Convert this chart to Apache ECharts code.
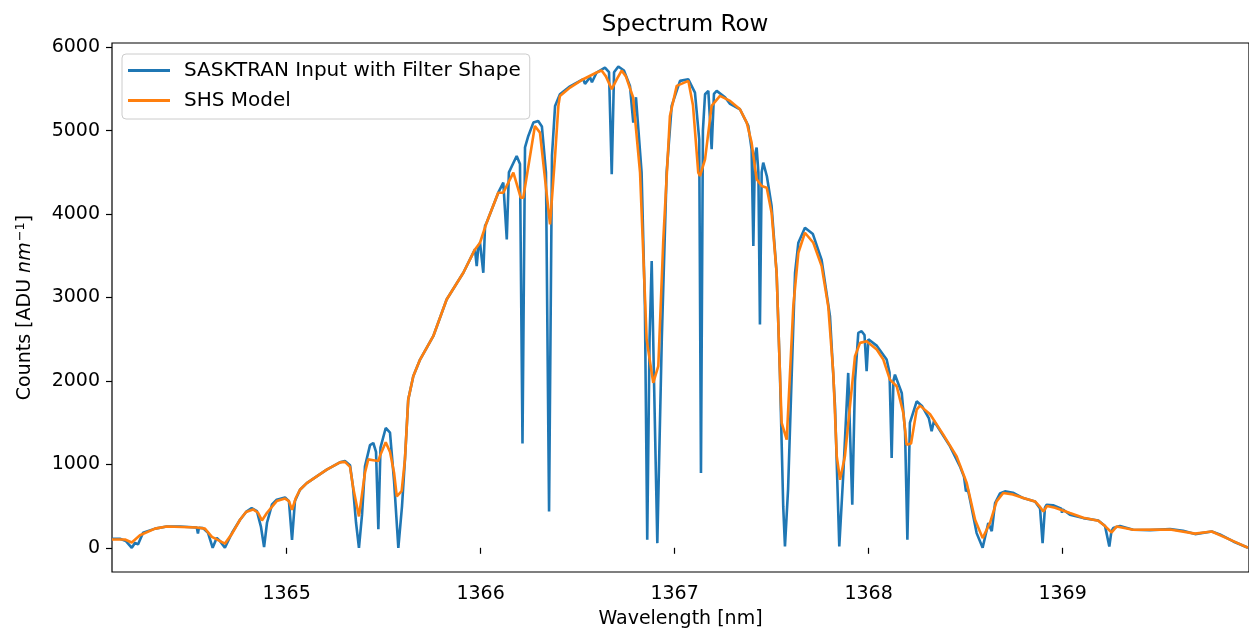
<!DOCTYPE html>
<html>
<head>
	<meta charset="utf-8" />
	<title>Spectrum Row</title>
	<script src="https://cdn.jsdelivr.net/npm/echarts@6/dist/echarts.min.js"></script>
	<style>
		html, body { margin: 0; padding: 0; background: #fff; }
	</style>
</head>
<body>
	<div id="main" style="width: 1249px;height: 634px;"></div>
	<script type="text/javascript">

		// wavelength [nm] / counts
		var blueWl = [
			1364.100,1364.141,1364.172,1364.202,1364.219,1364.234,1364.260,1364.322,1364.382,1364.451,
			1364.537,1364.543,1364.548,1364.569,1364.595,1364.619,1364.640,1364.657,1364.682,1364.719,
			1364.760,1364.791,1364.820,1364.847,1364.868,1364.884,1364.899,1364.925,1364.949,1364.992,
			1365.012,1365.028,1365.043,1365.069,1365.104,1365.207,1365.275,1365.301,1365.327,1365.342,
			1365.358,1365.373,1365.389,1365.404,1365.430,1365.447,1365.461,1365.473,1365.484,1365.511,
			1365.533,1365.554,1365.576,1365.595,1365.610,1365.627,1365.653,1365.688,1365.756,1365.825,
			1365.911,1365.971,1365.980,1365.989,1365.997,1366.014,1366.023,1366.031,1366.091,1366.117,
			1366.135,1366.146,1366.186,1366.203,1366.216,1366.229,1366.246,1366.272,1366.297,1366.316,
			1366.337,1366.353,1366.368,1366.384,1366.409,1366.461,1366.529,1366.538,1366.564,1366.574,
			1366.598,1366.641,1366.662,1366.676,1366.688,1366.710,1366.739,1366.770,1366.787,1366.801,
			1366.830,1366.847,1366.859,1366.871,1366.882,1366.894,1366.911,1366.934,1366.959,1366.985,
			1367.028,1367.071,1367.105,1367.127,1367.136,1367.146,1367.157,1367.174,1367.191,1367.203,
			1367.217,1367.260,1367.286,1367.337,1367.380,1367.397,1367.406,1367.414,1367.423,1367.432,
			1367.440,1367.449,1367.457,1367.476,1367.500,1367.526,1367.543,1367.560,1367.569,1367.585,
			1367.604,1367.621,1367.638,1367.672,1367.713,1367.758,1367.801,1367.827,1367.849,1367.870,
			1367.895,1367.901,1367.916,1367.930,1367.947,1367.964,1367.979,1367.990,1367.999,1368.007,
			1368.043,1368.093,1368.108,1368.119,1368.128,1368.136,1368.171,1368.188,1368.200,1368.213,
			1368.248,1368.275,1368.311,1368.325,1368.337,1368.420,1368.471,1368.492,1368.502,1368.512,
			1368.523,1368.557,1368.588,1368.617,1368.635,1368.652,1368.677,1368.703,1368.744,1368.797,
			1368.858,1368.884,1368.897,1368.909,1368.918,1368.951,1368.994,1368.997,1369.002,1369.038,
			1369.107,1369.184,1369.219,1369.241,1369.252,1369.261,1369.296,1369.364,1369.451,1369.554,
			1369.621,1369.683,1369.769,1369.811,1369.880,1369.956
		];
		var blueCounts = [
			108,108,80,0,60,40,180,230,256,255,
			244,170,240,236,180,0,120,80,0,180,
			336,430,476,440,250,8,300,520,576,604,
			560,96,560,696,776,936,1024,1040,990,736,
			300,0,400,976,1230,1256,1150,224,1200,1436,
			1380,800,0,500,1056,1776,2056,2256,2536,2976,
			3296,3576,3376,3620,3656,3296,3860,3896,4256,4376,
			3696,4500,4696,4600,1250,4800,4936,5096,5116,5050,
			4500,436,4700,5296,5436,5530,5616,5560,5640,5580,
			5696,5756,5700,4476,5700,5768,5720,5536,5096,5400,
			4496,2896,96,2500,3436,2000,56,2496,4496,5296,
			5596,5616,5456,4896,896,5000,5436,5476,4776,5440,
			5476,5400,5320,5256,5056,4776,3616,4700,4796,4500,
			2676,4500,4616,4450,4096,3296,2096,496,16,700,
			2096,3296,3656,3836,3760,3450,2776,1696,16,896,
			2096,2076,516,2000,2576,2596,2550,2116,2500,2516,
			2420,2256,2100,1076,2000,2076,1856,1400,96,1496,
			1756,1700,1550,1396,1520,1216,976,850,676,700,
			576,176,0,296,200,536,650,676,660,596,
			556,470,56,480,516,510,470,420,460,396,
			356,328,260,16,200,236,260,216,212,224,
			205,164,196,160,76,0
		];

		var shsWl = [
			1364.100,1364.167,1364.202,1364.244,1364.322,1364.382,1364.537,1364.579,1364.615,1364.682,
			1364.719,1364.760,1364.791,1364.827,1364.853,1364.873,1364.899,1364.949,1364.992,1365.012,
			1365.028,1365.048,1365.069,1365.104,1365.207,1365.275,1365.301,1365.327,1365.342,1365.373,
			1365.404,1365.421,1365.447,1365.473,1365.481,1365.511,1365.533,1365.554,1365.568,1365.593,
			1365.610,1365.627,1365.653,1365.688,1365.756,1365.825,1365.911,1365.971,1365.997,1366.031,
			1366.091,1366.117,1366.169,1366.207,1366.220,1366.280,1366.306,1366.358,1366.384,1366.401,
			1366.409,1366.461,1366.529,1366.598,1366.624,1366.646,1366.676,1366.703,1366.727,1366.749,
			1366.786,1366.822,1366.856,1366.890,1366.916,1366.942,1366.976,1367.011,1367.071,1367.095,
			1367.122,1367.131,1367.157,1367.191,1367.234,1367.286,1367.337,1367.372,1367.397,1367.423,
			1367.449,1367.475,1367.500,1367.526,1367.543,1367.552,1367.578,1367.595,1367.612,1367.638,
			1367.672,1367.715,1367.758,1367.792,1367.818,1367.836,1367.853,1367.878,1367.904,1367.930,
			1367.956,1367.990,1368.042,1368.076,1368.110,1368.145,1368.179,1368.196,1368.219,1368.248,
			1368.265,1368.317,1368.385,1368.454,1368.506,1368.549,1368.588,1368.626,1368.660,1368.694,
			1368.744,1368.806,1368.858,1368.884,1368.901,1368.920,1368.961,1369.038,1369.107,1369.184,
			1369.219,1369.253,1369.279,1369.364,1369.554,1369.683,1369.769,1369.880,1369.956
		];
		var shsCounts = [
			100,100,64,150,230,256,244,230,130,50,
			170,336,430,460,420,328,420,560,590,560,
			456,600,696,776,936,1024,1030,970,736,376,
			900,1060,1050,1040,1100,1264,1150,900,616,680,
			1056,1776,2056,2256,2536,2976,3296,3576,3656,3896,
			4256,4256,4496,4196,4196,5056,4976,3876,4696,5296,
			5416,5516,5616,5696,5720,5650,5496,5620,5720,5650,
			5400,4496,2496,1976,2176,3696,5176,5536,5596,5300,
			4496,4456,4656,5296,5416,5356,5256,5096,4856,4416,
			4336,4316,4016,3296,2096,1496,1296,2096,2896,3536,
			3776,3656,3376,2896,2096,1096,816,1096,1696,2296,
			2456,2476,2376,2256,2016,1936,1616,1236,1250,1656,
			1704,1600,1356,1096,776,336,116,300,556,656,
			640,590,556,490,436,500,480,416,360,325,
			260,184,256,216,220,170,196,80,0
		];

		var xTicks = [1365, 1366, 1367, 1368, 1369];
		var yTicks = [0, 1000, 2000, 3000, 4000, 5000, 6000];

		function pairs(xs, ys) {
			var out = [];
			for (var i = 0; i < xs.length; i++) {
				out.push([xs[i], ys[i]]);
			}
			return out;
		}

		var myChart = echarts.init(document.getElementById("main"), null, {renderer: 'canvas'});

		var font = 'DejaVu Sans';

		var option = {
			animation: false,
			backgroundColor: '#fff',
			title: {
				text: 'Spectrum Row',
				left: 680,
				textAlign: 'center',
				top: 9,
				textStyle: {fontFamily: font, fontSize: 23, fontWeight: 'normal', color: '#000'}
			},
			legend: {
				orient: 'vertical',
				left: 122,
				top: 54,
				padding: [6, 9, 8, 6],
				itemGap: 9,
				itemWidth: 42,
				itemHeight: 3,
				icon: 'rect',
				backgroundColor: 'rgba(255,255,255,0.8)',
				borderColor: '#cccccc',
				borderWidth: 1,
				borderRadius: 4,
				textStyle: {fontFamily: font, fontSize: 20, color: '#000', lineHeight: 21, padding: [0, 0, 0, 9]},
				data: ['SASKTRAN Input with Filter Shape', 'SHS Model']
			},
			grid: {
				left: 112,
				right: 0,
				top: 43,
				bottom: 61,
				show: true,
				borderColor: '#000',
				borderWidth: 1.2,
				backgroundColor: 'transparent'
			},
			xAxis: {
				type: 'value',
				min: 1364.10,
				max: 1369.961,
				name: 'Wavelength [nm]',
				nameLocation: 'middle',
				nameGap: 38,
				nameTextStyle: {fontFamily: font, fontSize: 19, color: '#000'},
				axisLine: {show: false},
				axisTick: {show: true, inside: false, length: 6, lineStyle: {color: '#000', width: 1.2}, customValues: xTicks},
				axisLabel: {
					customValues: xTicks,
					margin: 13,
					fontFamily: font,
					fontSize: 19,
					color: '#000',
					formatter: function (v) { return String(v); }
				},
				splitLine: {show: false}
			},
			yAxis: {
				type: 'value',
				min: -290,
				max: 6050,
				name: '{n|Counts [ADU }{i|nm}{s|−1}{n|]}',
				nameLocation: 'middle',
				nameGap: 76,
				nameTextStyle: {
					fontFamily: font,
					fontSize: 19,
					color: '#000',
					rich: {
						n: {fontFamily: font, fontSize: 19, color: '#000'},
						i: {fontFamily: font, fontSize: 19, fontStyle: 'italic', color: '#000'},
						s: {fontFamily: font, fontSize: 13, color: '#000', padding: [0, 0, 9, 1]}
					}
				},
				axisLine: {show: false},
				axisTick: {show: true, inside: false, length: 6, lineStyle: {color: '#000', width: 1.2}, customValues: yTicks},
				axisLabel: {
					customValues: yTicks,
					margin: 12,
					fontFamily: font,
					fontSize: 19,
					color: '#000',
					formatter: function (v) { return String(v); }
				},
				splitLine: {show: false}
			},
			series: [
				{
					name: 'SASKTRAN Input with Filter Shape',
					type: 'line',
					showSymbol: false,
					symbol: 'none',
					color: '#1f77b4',
					lineStyle: {width: 2.6, color: '#1f77b4'},
					data: pairs(blueWl, blueCounts)
				},
				{
					name: 'SHS Model',
					type: 'line',
					showSymbol: false,
					symbol: 'none',
					color: '#ff7f0e',
					lineStyle: {width: 2.6, color: '#ff7f0e'},
					data: pairs(shsWl, shsCounts)
				}
			]
		};

		myChart.setOption(option);

	</script>
</body>
</html>
